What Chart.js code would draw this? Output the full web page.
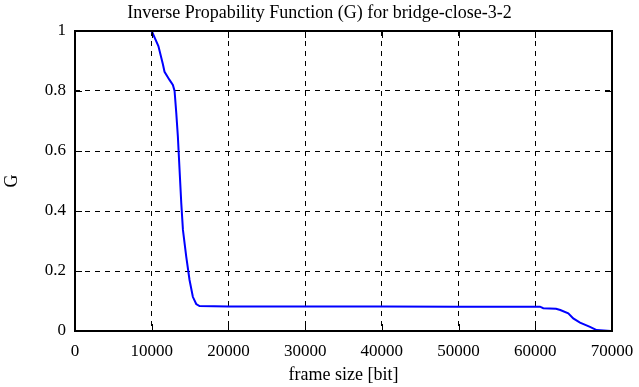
<!DOCTYPE html>
<html>
<head>
<meta charset="utf-8">
<script src="https://cdn.jsdelivr.net/npm/chart.js@4"></script>
<style>
  html, body { margin: 0; padding: 0; background: #fff; }
  #wrap { width: 639px; height: 387px; }
</style>
</head>
<body>
<div id="wrap"><canvas id="g-chart"></canvas></div>
<script>
// frame size [bit] and the inverse probability G
var frameSize = [10000, 10870, 11450, 11670, 12320, 12760, 12980, 13200, 13410, 13630,
                 13850, 14070, 14500, 14930, 15360, 15800, 16230, 20000, 30000, 40000,
                 50000, 55390, 60610, 61040, 62700, 63260, 64300, 64950, 65830, 67130, 68000, 69830];
var gValues   = [1.0, 0.95, 0.89, 0.864, 0.837, 0.82, 0.80, 0.727, 0.648, 0.537,
                 0.427, 0.337, 0.248, 0.17, 0.114, 0.09, 0.083, 0.082, 0.082, 0.082,
                 0.081, 0.081, 0.081, 0.076, 0.074, 0.07, 0.059, 0.042, 0.028, 0.014, 0.003, 0.0];
var xTicks = [0, 10000, 20000, 30000, 40000, 50000, 60000, 70000];
var yTicks = [0, 0.2, 0.4, 0.6, 0.8, 1];

var fontFamily = '"Liberation Serif", serif';

// gnuplot style: inside tick marks and a solid frame
var framePlugin = {
  id: 'frame',
  afterDraw: function(chart) {
    var ctx = chart.ctx, a = chart.chartArea;
    var xs = chart.scales.x, ys = chart.scales.y;
    ctx.save();
    ctx.strokeStyle = '#000';
    ctx.lineWidth = 1;
    ctx.setLineDash([]);
    xTicks.forEach(function(v) {
      var px = Math.round(xs.getPixelForValue(v)) + 0.5;
      ctx.beginPath();
      ctx.moveTo(px, a.bottom); ctx.lineTo(px, a.bottom - 7);
      ctx.moveTo(px, a.top); ctx.lineTo(px, a.top + 7);
      ctx.stroke();
    });
    yTicks.forEach(function(v) {
      var py = Math.round(ys.getPixelForValue(v)) + 0.5;
      ctx.beginPath();
      ctx.moveTo(a.left, py); ctx.lineTo(a.left + 7, py);
      ctx.moveTo(a.right, py); ctx.lineTo(a.right - 7, py);
      ctx.stroke();
    });
    ctx.lineWidth = 2;
    ctx.strokeRect(a.left, a.top, a.right - a.left, a.bottom - a.top);
    ctx.restore();
  }
};

new Chart(document.getElementById('g-chart'), {
  type: 'line',
  data: {
    datasets: [{
      data: frameSize.map(function(x, i) { return { x: x, y: gValues[i] }; }),
      borderColor: '#0000ff',
      borderWidth: 2,
      pointRadius: 0,
      tension: 0,
      fill: false
    }]
  },
  options: {
    responsive: true,
    maintainAspectRatio: false,
    animation: false,
    layout: { padding: 0 },
    plugins: {
      legend: { display: false },
      tooltip: { enabled: false },
      title: {
        display: true,
        text: 'Inverse Propability Function (G) for bridge-close-3-2',
        color: '#000',
        font: { family: fontFamily, size: 18, weight: 'normal' },
        padding: { top: 2, bottom: 7.4 }
      }
    },
    scales: {
      x: {
        type: 'linear',
        min: 0,
        max: 70000,
        afterFit: function(s) { s.height = 56; s.paddingRight = 27; s.paddingLeft = 0; },
        afterBuildTicks: function(s) { s.ticks = xTicks.map(function(v) { return { value: v }; }); },
        ticks: {
          color: '#000',
          padding: 10,
          maxRotation: 0,
          font: { family: fontFamily, size: 17 },
          callback: function(v) { return String(v); }
        },
        grid: {
          color: '#000',
          lineWidth: 1,
          drawTicks: false,
          drawOnChartArea: true
        },
        border: { display: false, dash: [5, 5] },
        title: {
          display: true,
          text: 'frame size [bit]',
          color: '#000',
          font: { family: fontFamily, size: 18 },
          padding: { top: 0, bottom: 1 }
        }
      },
      y: {
        min: 0,
        max: 1,
        afterFit: function(s) { s.width = 75; s.paddingTop = 0; s.paddingBottom = 0; },
        afterBuildTicks: function(s) { s.ticks = yTicks.map(function(v) { return { value: v }; }); },
        ticks: {
          color: '#000',
          padding: 9,
          font: { family: fontFamily, size: 17 },
          callback: function(v) { return String(Math.round(v * 10) / 10); }
        },
        grid: {
          color: '#000',
          lineWidth: 1,
          drawTicks: false
        },
        border: { display: false, dash: [5, 5] },
        title: {
          display: true,
          text: 'G',
          color: '#000',
          font: { family: fontFamily, size: 18 },
          padding: { top: 1, bottom: 0 }
        }
      }
    }
  },
  plugins: [framePlugin]
});
</script>
</body>
</html>
